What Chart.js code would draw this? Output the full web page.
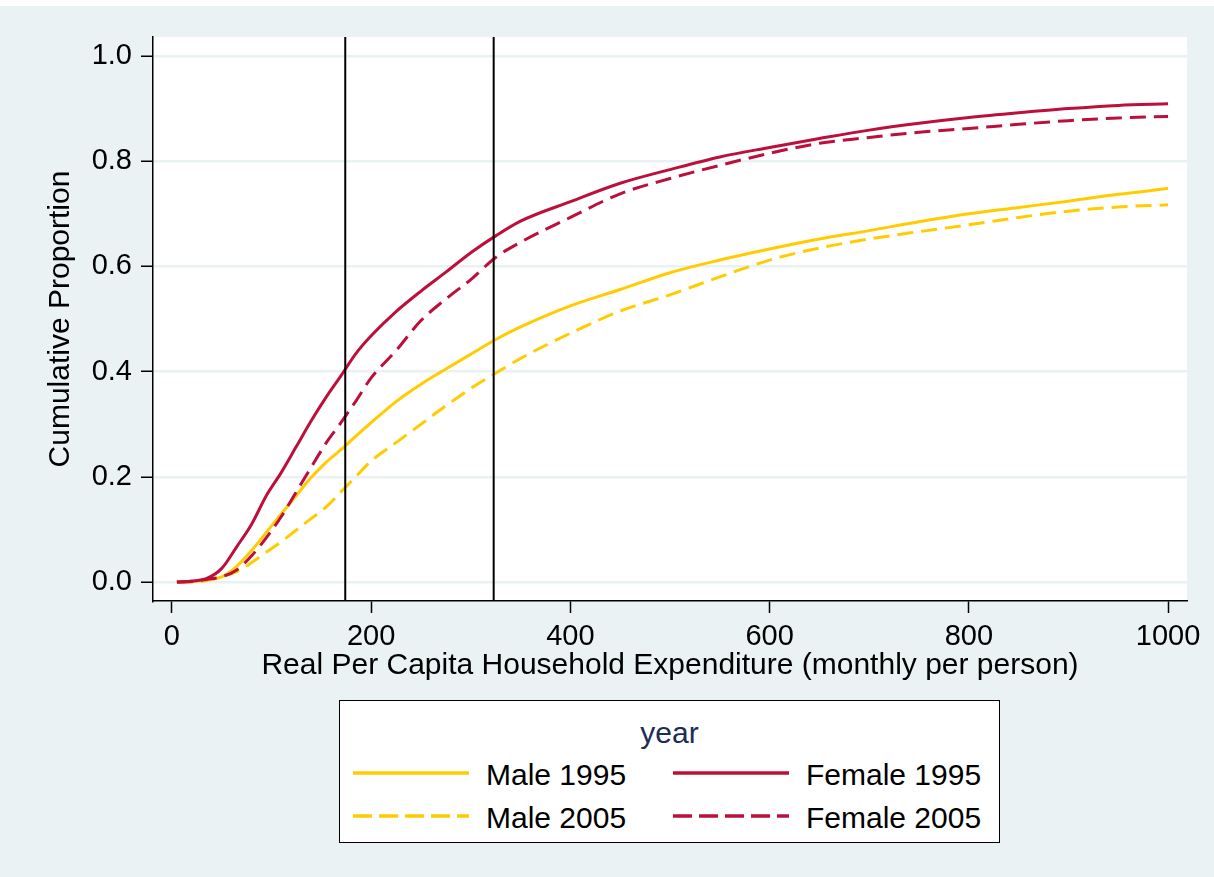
<!DOCTYPE html>
<html>
<head>
<meta charset="utf-8">
<script src="https://cdn.jsdelivr.net/npm/chart.js@4.4.1/dist/chart.umd.min.js"></script>
<style>
  html, body { margin: 0; padding: 0; }
  body { width: 1214px; height: 877px; background: #eaf2f3; position: relative; overflow: hidden;
         font-family: "Liberation Sans", Arial, sans-serif; }
  #topStrip { position: absolute; left: 0; top: 0; width: 1214px; height: 6px; background: #fff; }
  #chartBox { position: absolute; left: 0; top: 0; }
  #legend { position: absolute; left: 339px; top: 700px; width: 661px; height: 143px; box-sizing: border-box;
            border: 1.5px solid #000; background: #fff; }
  #legend .title { position: absolute; left: 0; width: 100%; top: 14px; text-align: center; font-size: 30px;
                   line-height: 36px; color: #1c2c55; }
  #legend .item { position: absolute; font-size: 30px; line-height: 36px; color: #000; white-space: nowrap; }
  #legend svg { position: absolute; }
</style>
</head>
<body>
<div id="topStrip"></div>
<div id="chartBox"><canvas id="cdfChart" width="1214" height="877"></canvas></div>
<div id="legend"></div>

<script>
// x values (real per capita household expenditure) shared by the four curves
const expenditure = [5, 20, 35, 50, 65, 80, 95, 110, 125, 140, 155, 170, 185, 200, 225, 250, 275, 300, 325, 350,
                     400, 450, 500, 550, 600, 650, 700, 750, 800, 850, 900, 950, 1000];

const male1995 = [0, 0.001, 0.004, 0.010, 0.030, 0.060, 0.095, 0.130, 0.165, 0.199, 0.228, 0.252, 0.278, 0.303,
                  0.343, 0.376, 0.405, 0.433, 0.461, 0.485, 0.525, 0.556, 0.588, 0.612, 0.633, 0.652, 0.668,
                  0.685, 0.700, 0.712, 0.724, 0.737, 0.748];

const male2005 = [0, 0, 0.003, 0.010, 0.020, 0.037, 0.057, 0.077, 0.099, 0.121, 0.143, 0.172, 0.201, 0.230,
                  0.265, 0.300, 0.335, 0.368, 0.397, 0.425, 0.473, 0.515, 0.546, 0.580, 0.612, 0.635, 0.652,
                  0.666, 0.679, 0.693, 0.705, 0.713, 0.717];

const female1995 = [0, 0.002, 0.007, 0.026, 0.067, 0.110, 0.165, 0.209, 0.258, 0.307, 0.352, 0.393, 0.435, 0.468,
                    0.514, 0.553, 0.589, 0.626, 0.658, 0.686, 0.723, 0.758, 0.784, 0.808, 0.826, 0.843, 0.859,
                    0.872, 0.883, 0.892, 0.900, 0.906, 0.909];

const female2005 = [0, 0.001, 0.005, 0.010, 0.023, 0.050, 0.085, 0.125, 0.172, 0.219, 0.265, 0.304, 0.345, 0.388,
                    0.440, 0.497, 0.538, 0.575, 0.617, 0.646, 0.693, 0.738, 0.767, 0.792, 0.815, 0.834, 0.845,
                    0.855, 0.862, 0.870, 0.877, 0.882, 0.885];

// vertical reference lines
const cutoffs = [174, 323];

const xTicks = [0, 200, 400, 600, 800, 1000];
const yTicks = [0, 0.2, 0.4, 0.6, 0.8, 1.0];

const seriesNames = ['Male 1995', 'Female 1995', 'Male 2005', 'Female 2005'];

const xMin = -19, xMax = 1019;
const yMin = -0.036, yMax = 1.036;

const gold = '#ffcc00';
const cranberry = '#bc0f3c';
const dashPattern = [16, 8];

Chart.defaults.font.family = '"Liberation Sans", Arial, sans-serif';
Chart.defaults.color = '#000';

function toPoints(ys) {
    return ys.map((y, i) => ({ x: expenditure[i], y: y }));
}

const curveStyle = {
    pointRadius: 0,
    borderWidth: 3,
    cubicInterpolationMode: 'monotone',
    fill: false
};

const datasets = [
    Object.assign({ label: 'Female 2005', data: toPoints(female2005), borderColor: cranberry, borderDash: dashPattern }, curveStyle),
    Object.assign({ label: 'Female 1995', data: toPoints(female1995), borderColor: cranberry }, curveStyle),
    Object.assign({ label: 'Male 2005', data: toPoints(male2005), borderColor: gold, borderDash: dashPattern }, curveStyle),
    Object.assign({ label: 'Male 1995', data: toPoints(male1995), borderColor: gold }, curveStyle)
];

cutoffs.forEach((c) => {
    datasets.unshift({
        label: 'cutoff ' + c,
        data: [{ x: c, y: yMin }, { x: c, y: yMax }],
        borderColor: '#000',
        borderWidth: 2,
        pointRadius: 0
    });
});

// white plotting area
const plotBackground = {
    id: 'plotBackground',
    beforeDraw(chart) {
        const { ctx, chartArea } = chart;
        ctx.save();
        ctx.fillStyle = '#fff';
        ctx.fillRect(chartArea.left, chartArea.top, chartArea.right - chartArea.left, chartArea.bottom - chartArea.top);
        ctx.restore();
    }
};

new Chart(document.getElementById('cdfChart'), {
    type: 'line',
    data: { datasets: datasets },
    plugins: [plotBackground],
    options: {
        responsive: false,
        animation: false,
        layout: {
            padding: { top: 37, left: 0, right: 27, bottom: 193 }
        },
        plugins: {
            legend: { display: false },
            tooltip: { enabled: false }
        },
        scales: {
            x: {
                type: 'linear',
                min: xMin,
                max: xMax,
                afterBuildTicks: (scale) => { scale.ticks = xTicks.map((v) => ({ value: v })); },
                afterFit: (scale) => { scale.height = 83; },
                border: { color: '#000', width: 1.5 },
                grid: {
                    drawOnChartArea: false,
                    drawTicks: true,
                    tickLength: 12,
                    tickColor: '#000',
                    tickWidth: 1.5
                },
                ticks: {
                    padding: 7,
                    color: '#000',
                    maxRotation: 0,
                    font: { size: 29 },
                    callback: (v) => String(v)
                },
                title: {
                    display: true,
                    text: 'Real Per Capita Household Expenditure (monthly per person)',
                    color: '#000',
                    font: { size: 30 },
                    padding: { top: 0, bottom: 0 }
                }
            },
            y: {
                type: 'linear',
                min: yMin,
                max: yMax,
                afterBuildTicks: (scale) => { scale.ticks = yTicks.map((v) => ({ value: v })); },
                afterFit: (scale) => { scale.width = 153; },
                border: { color: '#000', width: 1.5 },
                grid: {
                    color: '#e9f1f3',
                    lineWidth: 2.5,
                    drawTicks: true,
                    tickLength: 12,
                    tickColor: '#000',
                    tickWidth: 1.5
                },
                ticks: {
                    padding: 9,
                    color: '#000',
                    font: { size: 29 },
                    callback: (v) => Number(v).toFixed(1)
                },
                title: {
                    display: true,
                    text: 'Cumulative Proportion',
                    color: '#000',
                    font: { size: 30 },
                    padding: { top: 43, bottom: 0 }
                }
            }
        }
    }
});

// legend box (Stata style, two columns under a "year" title)
const legend = document.getElementById('legend');
legend.innerHTML = '<div class="title">year</div>';

const legendStyles = {
    'Male 1995': { color: gold, dashed: false },
    'Female 1995': { color: cranberry, dashed: false },
    'Male 2005': { color: gold, dashed: true },
    'Female 2005': { color: cranberry, dashed: true }
};

seriesNames.forEach((name, i) => {
    const col = i % 2;
    const row = Math.floor(i / 2);
    const lineLeft = 12 + col * 320;
    const textLeft = 146 + col * 320;
    const rowY = 72 + row * 43;
    const st = legendStyles[name];

    const svgNS = 'http://www.w3.org/2000/svg';
    const svg = document.createElementNS(svgNS, 'svg');
    svg.setAttribute('width', '118');
    svg.setAttribute('height', '10');
    svg.style.left = lineLeft + 'px';
    svg.style.top = (rowY - 5) + 'px';
    const ln = document.createElementNS(svgNS, 'line');
    ln.setAttribute('x1', '1');
    ln.setAttribute('x2', '117');
    ln.setAttribute('y1', '5');
    ln.setAttribute('y2', '5');
    ln.setAttribute('stroke', st.color);
    ln.setAttribute('stroke-width', '3.5');
    if (st.dashed) ln.setAttribute('stroke-dasharray', '19 7');
    svg.appendChild(ln);
    legend.appendChild(svg);

    const label = document.createElement('div');
    label.className = 'item';
    label.textContent = name;
    label.style.left = textLeft + 'px';
    label.style.top = (rowY - 16) + 'px';
    legend.appendChild(label);
});
</script>
</body>
</html>
